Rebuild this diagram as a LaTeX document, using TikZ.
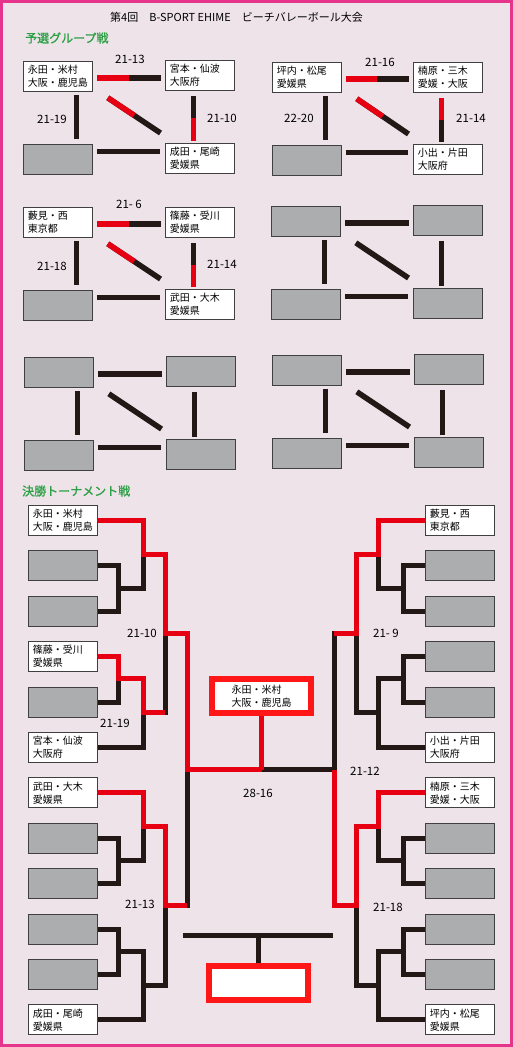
\documentclass[tikz,border=0pt]{standalone}
\usepackage{fontspec}
\setmainfont{Noto Sans CJK JP}
\newfontfamily\headfont[FakeBold=1.2]{Noto Sans CJK JP}
\usetikzlibrary{calc}
\definecolor{cbg}{RGB}{238,227,233}
\definecolor{cframe}{RGB}{230,52,140}
\definecolor{cwin}{RGB}{230,0,18}
\definecolor{cchamp}{RGB}{255,22,22}
\definecolor{cbar}{RGB}{35,24,21}
\definecolor{cblank}{RGB}{172,173,175}
\definecolor{chead}{RGB}{45,160,70}

\begin{document}
\begin{tikzpicture}[x=1pt, y=-1pt,
    team/.style={draw=black!75, fill=white, line width=0.8pt, anchor=north west,
        minimum width=69pt, minimum height=30pt, text width=60pt, inner xsep=4.5pt,
        inner ysep=0pt, align=left, font=\fontsize{10}{13}\selectfont},
    blank/.style={draw=black!75, fill=cblank, line width=0.8pt, anchor=north west,
        minimum width=69pt, minimum height=30pt, inner sep=0pt},
    final/.style={draw=cchamp, fill=white, line width=6pt, minimum width=99pt,
        minimum height=34pt, align=left, font=\fontsize{10}{13}\selectfont},
    gbar/.style={cbar, line width=5.5pt},
    gwin/.style={cwin, line width=5.5pt},
    bk/.style={cbar, line width=5pt},
    rd/.style={cwin, line width=5pt},
    score/.style={inner sep=0pt, font=\fontsize{11.5}{12}\selectfont},
    head/.style={chead, anchor=west, inner sep=0pt, font=\headfont\fontsize{12}{12}\selectfont}]
    \useasboundingbox (0,0) rectangle (513,1047);
    \fill[cbg] (0,0) rectangle (513,1047);
    \draw[cframe, line width=3pt] (1.5,1.5) rectangle (511.5,1045.5);

    % Titles
    \node[anchor=west, inner sep=0pt, font=\fontsize{11}{11}\selectfont] (title) at (110,17)
        {第4回　B-SPORT EHIME　ビーチバレーボール大会};
    \node[head] (pre) at (25,38) {予選グループ戦};
    \node[head] (tour) at (22,491) {決勝トーナメント戦};

    % Groups
    \node[team] (g1-a) at (23,61) {永田・米村\\大阪・鹿児島};
    \node[team] (g1-b) at (165,60) {宮本・仙波\\大阪府};
    \node[blank] (g1-c) at (23,144) {};
    \node[team] (g1-d) at (165,143) {成田・尾崎\\愛媛県};
    \node[team] (g2-a) at (272,62) {坪内・松尾\\愛媛県};
    \node[team] (g2-b) at (413,62) {楠原・三木\\愛媛・大阪};
    \node[blank] (g2-c) at (272,145) {};
    \node[team] (g2-d) at (413,144) {小出・片田\\大阪府};
    \node[team] (g3-a) at (23,207) {藪見・西\\東京都};
    \node[team] (g3-b) at (165,207) {篠藤・受川\\愛媛県};
    \node[blank] (g3-c) at (23,290) {};
    \node[team] (g3-d) at (165,289) {武田・大木\\愛媛県};
    \foreach \g/\x/\y in {4/271/206, 5/24/357, 6/272/355} {
        \node[blank] (g\g-a) at (\x,\y) {};
        \node[blank] (g\g-b) at (\x+142,\y-1) {};
        \node[blank] (g\g-c) at (\x,\y+83) {};
        \node[blank] (g\g-d) at (\x+142,\y+82) {};
    }

    % Group bars
    \foreach \g in {1,...,6} {
        \coordinate (g\g-t0) at ($(g\g-a.east)+(4.5,1.5)$);
        \coordinate (g\g-t1) at ($(g\g-t0 -| g\g-b.west)+(-4.5,0)$);
        \coordinate (g\g-l0) at ($(g\g-a.south)+(18.5,3.5)$);
        \coordinate (g\g-l1) at ($(g\g-l0 |- g\g-c.north)+(0,-5)$);
        \coordinate (g\g-r0) at ($(g\g-b.south)+(-6.5,5)$);
        \coordinate (g\g-r1) at ($(g\g-r0 |- g\g-d.north)+(0,-2.5)$);
        \coordinate (g\g-x0) at ($(g\g-a.south east)+(15,6)$);
        \coordinate (g\g-x1) at ($(g\g-d.north west)+(-4.5,-10)$);
        \coordinate (g\g-b0) at ($(g\g-c.east)+(4,-8)$);
        \coordinate (g\g-b1) at ($(g\g-b0 -| g\g-d.west)+(-5,0)$);
        \draw[gbar] (g\g-t0) -- (g\g-t1);
        \draw[gbar] (g\g-l0) -- (g\g-l1);
        \draw[gbar] (g\g-r0) -- (g\g-r1);
        \draw[gbar] (g\g-x0) -- (g\g-x1);
        \draw[gbar] (g\g-b0) -- (g\g-b1);
    }
    \foreach \g in {1,2,3} {
        \draw[gwin] (g\g-t0) -- ($(g\g-t0)!.5!(g\g-t1)$);
        \draw[gwin] (g\g-x0) -- ($(g\g-x0)!.5!(g\g-x1)$);
    }
    \draw[gwin] ($(g1-r0)!.5!(g1-r1)$) -- (g1-r1);
    \draw[gwin] (g2-r0) -- ($(g2-r0)!.5!(g2-r1)$);
    \draw[gwin] ($(g3-r0)!.5!(g3-r1)$) -- (g3-r1);

    % Group scores
    \node[score] (s1) at (130,59) {21-13};
    \node[score] (s2) at (52,119) {21-19};
    \node[score] (s3) at (222,118) {21-10};
    \node[score] (s4) at (380,62) {21-16};
    \node[score] (s5) at (299,118) {22-20};
    \node[score] (s6) at (471,118) {21-14};
    \node[score] (s7) at (129,204) {21- 6};
    \node[score] (s8) at (52,266) {21-18};
    \node[score] (s9) at (222,264) {21-14};

    % Tournament entries
    \node[team] (L1) at (28,505) {永田・米村\\大阪・鹿児島};
    \node[team] (L4) at (28,641.2) {篠藤・受川\\愛媛県};
    \node[team] (L6) at (28,732) {宮本・仙波\\大阪府};
    \node[team] (L7) at (28,777.4) {武田・大木\\愛媛県};
    \node[team] (L12) at (28,1004.4) {成田・尾崎\\愛媛県};
    \node[team] (R1) at (425,505) {藪見・西\\東京都};
    \node[team] (R6) at (425,732) {小出・片田\\大阪府};
    \node[team] (R7) at (425,777.4) {楠原・三木\\愛媛・大阪};
    \node[team] (R12) at (425,1004.4) {坪内・松尾\\愛媛県};
    \foreach \i in {2,3,5,8,9,10,11}
        \node[blank] (L\i) at (28,{505+45.4*(\i-1)}) {};
    \foreach \i in {2,3,4,5,8,9,10,11}
        \node[blank] (R\i) at (425,{505+45.4*(\i-1)}) {};

    % Joints
    \coordinate (la1) at (118,588.1);   \coordinate (ra1) at (403,588.1);
    \coordinate (lb1) at (143,554.05);  \coordinate (rb1) at (378,554.05);
    \coordinate (lc1) at (118,678.9);   \coordinate (rc1) at (403,678.9);
    \coordinate (ld1) at (143,712.95);  \coordinate (rd1) at (378,712.95);
    \coordinate (le1) at (165,633.5);   \coordinate (re1) at (356,633.5);
    \coordinate (la2) at (118,860.5);   \coordinate (ra2) at (403,860.5);
    \coordinate (lb2) at (143,826.45);  \coordinate (rb2) at (378,826.45);
    \coordinate (lc2) at (118,951.3);   \coordinate (rc2) at (403,951.3);
    \coordinate (ld2) at (143,985.35);  \coordinate (rd2) at (378,985.35);
    \coordinate (le2) at (165,905.9);   \coordinate (re2) at (356,905.9);
    \coordinate (lf) at (187,769.7);    \coordinate (rf) at (334,769.7);

    % Bracket lines
    \draw[bk] (L2.east) -| (la1) |- (L3.east);
    \draw[bk] (L1.east) -| (lb1) |- (la1);
    \draw[bk] (L4.east) -| (lc1) |- (L5.east);
    \draw[bk] (lc1) -| (ld1) |- (L6.east);
    \draw[bk] (lb1) -| (le1) |- (ld1);
    \draw[bk] (L8.east) -| (la2) |- (L9.east);
    \draw[bk] (L7.east) -| (lb2) |- (la2);
    \draw[bk] (L10.east) -| (lc2) |- (L11.east);
    \draw[bk] (lc2) -| (ld2) |- (L12.east);
    \draw[bk] (lb2) -| (le2) |- (ld2);
    \draw[bk] (le1) -| (lf) |- (le2);
    \draw[bk] (R2.west) -| (ra1) |- (R3.west);
    \draw[bk] (R1.west) -| (rb1) |- (ra1);
    \draw[bk] (R4.west) -| (rc1) |- (R5.west);
    \draw[bk] (rc1) -| (rd1) |- (R6.west);
    \draw[bk] (rb1) -| (re1) |- (rd1);
    \draw[bk] (R8.west) -| (ra2) |- (R9.west);
    \draw[bk] (R7.west) -| (rb2) |- (ra2);
    \draw[bk] (R10.west) -| (rc2) |- (R11.west);
    \draw[bk] (rc2) -| (rd2) |- (R12.west);
    \draw[bk] (rb2) -| (re2) |- (rd2);
    \draw[bk] (re1) -| (rf) |- (re2);
    \draw[bk] (lf) -- (rf);

    % Winners
    \node[final] (champ) at (261.5,696) {永田・米村\\大阪・鹿児島};
    \draw[rd] (champ.south) -- (champ.south |- lf);
    \draw[rd] (L1.east) -| (lb1) -| (le1) -| (lf) -- (lf -| champ.south);
    \draw[rd] (L4.east) -| (lc1) -| (ld1) -- (ld1 -| le1);
    \draw[rd] (L7.east) -| (lb2) -| (le2) -- (le2 -| lf);
    \draw[rd] (R1.west) -| (rb1) -| (re1) -- (re1 -| rf);
    \draw[rd] (R7.west) -| (rb2) -| (re2) -| (rf);

    % Third place
    \node[final] (third) at (258.5,982.5) {};
    \coordinate (tpL) at (183,935);
    \coordinate (tpR) at (333,935);
    \draw[bk] (tpL) -- (tpR);
    \draw[bk] (third.north) -- (third.north |- tpL);

    % Tournament scores
    \node[score] (t1) at (142,633) {21-10};
    \node[score] (t2) at (115,723) {21-19};
    \node[score] (t3) at (140,904) {21-13};
    \node[score] (t4) at (258,793) {28-16};
    \node[score] (t5) at (386,633) {21- 9};
    \node[score] (t6) at (365,771) {21-12};
    \node[score] (t7) at (388,907) {21-18};
\end{tikzpicture}
\end{document}
